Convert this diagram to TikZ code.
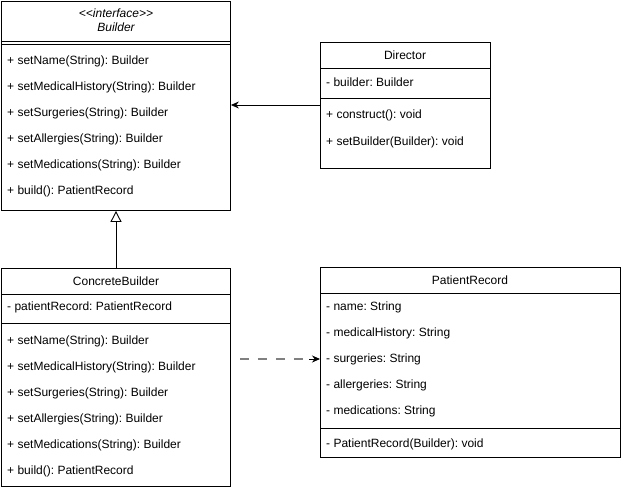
\documentclass[tikz,border=0pt]{standalone}
\usepackage{fontspec}
\setmainfont{Liberation Sans}
\usetikzlibrary{arrows.meta}
\frenchspacing
\begin{document}
\begin{tikzpicture}[x=1pt,y=-1pt,
  cls/.style={draw=black,line width=0.9pt,anchor=north west,inner sep=0pt,fill=white},
  sep/.style={draw=black,line width=0.9pt},
  txt/.style={anchor=west,inner sep=0pt,font=\fontsize{12}{14}\selectfont\frenchspacing},
  ttl/.style={anchor=center,inner sep=0pt,font=\fontsize{12}{14}\selectfont\frenchspacing},
  conn/.style={line width=0.9pt}]
\useasboundingbox (0,0) rectangle (623,488);
% Builder
\node[cls,minimum width=229pt,minimum height=209pt] (builder) at (1,1) {};
\node[ttl,font=\fontsize{12}{14}\selectfont\itshape] (bst) at (116,13) {{<}{<}interface{>}{>}};
\node[ttl,font=\fontsize{12}{14}\selectfont\itshape] (bname) at (116,27) {Builder};
\draw[sep] (1,41) -- (230,41);
\draw[sep] (1,44) -- (230,44);
\node[txt] (b1) at (7,61) {+ setName(String): Builder};
\node[txt] (b2) at (7,87) {+ setMedicalHistory(String): Builder};
\node[txt] (b3) at (7,113) {+ setSurgeries(String): Builder};
\node[txt] (b4) at (7,139) {+ setAllergies(String): Builder};
\node[txt] (b5) at (7,165) {+ setMedications(String): Builder};
\node[txt] (b6) at (7,191) {+ build(): PatientRecord};
% Director
\node[cls,minimum width=170pt,minimum height=126pt] (director) at (320,42) {};
\node[ttl] (dname) at (405,55) {Director};
\draw[sep] (320,68) -- (490,68);
\node[txt] (d1) at (326,82) {- builder: Builder};
\draw[sep] (320,98) -- (490,98);
\node[txt] (d2) at (326,115) {+ construct(): void};
\node[txt] (d3) at (326,142) {+ setBuilder(Builder): void};
% ConcreteBuilder
\node[cls,minimum width=229pt,minimum height=218pt] (concrete) at (1,268) {};
\node[ttl] (cname) at (116,281) {ConcreteBuilder};
\draw[sep] (1,294) -- (230,294);
\node[txt] (c0) at (7,307) {- patientRecord: PatientRecord};
\draw[sep] (1,323) -- (230,323);
\node[txt] (c1) at (7,341) {+ setName(String): Builder};
\node[txt] (c2) at (7,367) {+ setMedicalHistory(String): Builder};
\node[txt] (c3) at (7,393) {+ setSurgeries(String): Builder};
\node[txt] (c4) at (7,419) {+ setAllergies(String): Builder};
\node[txt] (c5) at (7,445) {+ setMedications(String): Builder};
\node[txt] (c6) at (7,471) {+ build(): PatientRecord};
% PatientRecord
\node[cls,minimum width=300pt,minimum height=190pt] (patient) at (320,267) {};
\node[ttl] (pname) at (470,280) {PatientRecord};
\draw[sep] (320,293) -- (620,293);
\node[txt] (p1) at (326,307) {- name: String};
\node[txt] (p2) at (326,333) {- medicalHistory: String};
\node[txt] (p3) at (326,359) {- surgeries: String};
\node[txt] (p4) at (326,385) {- allergeries: String};
\node[txt] (p5) at (326,411) {- medications: String};
\draw[sep] (320,428) -- (620,428);
\node[txt] (p6) at (326,444) {- PatientRecord(Builder): void};
% connectors
\draw[conn,-{Stealth[length=8pt,width=7pt]}] (director.west |- 0,105) -- (builder.east |- 0,105);
\draw[conn,-{Triangle[open,length=11pt,width=11pt]}] (concrete.north -| 116,0) -- (builder.south -| 116,0);
\draw[line width=1.5pt,draw=gray,dash pattern=on 9pt off 9pt,dash phase=-9pt] (concrete.east |- 0,359) -- (309,359);
\draw[conn,-{Stealth[length=8pt,width=7pt]}] (309,359) -- (patient.west |- 0,359);
\end{tikzpicture}
\end{document}
